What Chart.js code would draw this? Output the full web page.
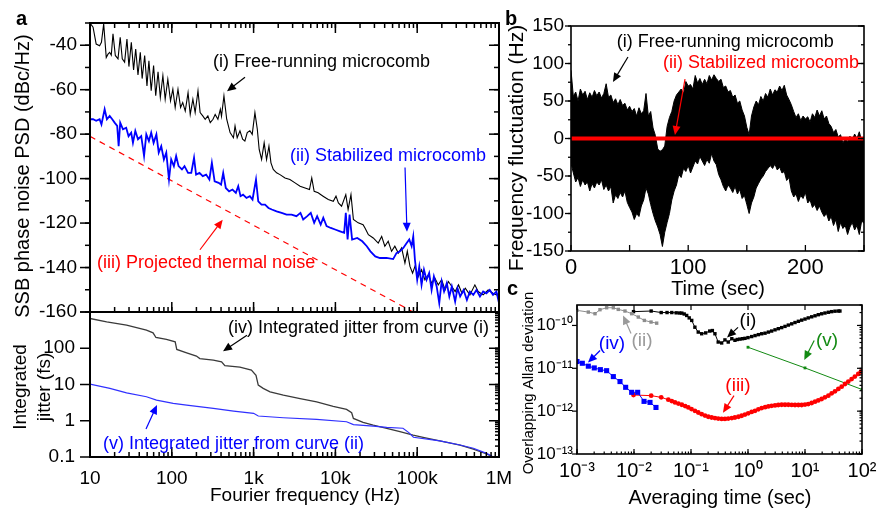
<!DOCTYPE html>
<html>
<head>
<meta charset="utf-8">
<script src="https://cdn.jsdelivr.net/npm/chart.js@4.4.1/dist/chart.umd.min.js"></script>
<style>
  body { margin: 0; background: #fff; }
  #fig { position: relative; width: 877px; height: 508px; overflow: hidden; font-family: "Liberation Sans", Arial, sans-serif; }
  #fig canvas { position: absolute; }
  .panel { position: absolute; font-weight: bold; font-size: 20px; line-height: 1; }
</style>
</head>
<body>
<div id="fig">
  <canvas id="psd" width="515" height="326" style="left:0;top:0"></canvas>
  <canvas id="jit" width="515" height="208" style="left:0;top:300px"></canvas>
  <canvas id="fluct" width="372" height="300" style="left:505px;top:0"></canvas>
  <canvas id="adev" width="372" height="223" style="left:505px;top:285px"></canvas>
  <div class="panel" style="left:16px;top:8px">a</div>
  <div class="panel" style="left:505px;top:8px">b</div>
  <div class="panel" style="left:507px;top:278px">c</div>
</div>
<script>
// ---------- panel a (top): SSB phase noise PSD ----------
const freeFreq = [
  10, 10.9, 11.9, 13.1, 13.8, 14.7, 15.8, 16.6, 17.4, 18.2,
  19.1, 20.4, 22, 23.4, 24.8, 26.5, 28.3, 29.9, 32, 34.1,
  36.2, 38.6, 41.2, 43.4, 46.6, 49.7, 52.5, 56, 59.9, 63.6,
  67.9, 72.4, 77.8, 83, 89.4, 96.5, 103, 110, 119, 128,
  136, 146, 158, 168, 181, 193, 209, 222, 239, 256,
  276, 295, 319, 339, 366, 392, 405, 434, 469, 516,
  567, 593, 630, 681, 734, 782, 836, 900, 962, 1038,
  1110, 1170, 1252, 1346, 1440, 1540, 1630, 1740, 1910, 2100,
  2420, 2780, 3210, 3700, 4260, 4820, 5140, 5500, 6150, 7070,
  8180, 9420, 10170, 10880, 11900, 13400, 14300, 15500, 16600, 19000,
  21800, 23000, 25300, 29000, 33400, 36800, 40200, 44200, 48600, 53300,
  58700, 64500, 70800, 75700, 81600, 87800, 93800, 103000, 113000, 124000,
  137000, 150000, 165000, 181000, 199000, 219000, 241000, 265000, 291000, 320000,
  352000, 387000, 441000, 507000, 556000, 640000, 736000, 845000, 930000, 1000000
];
const freeDb = [
  -30, -31.9, -39.5, -40.2, -38.7, -30.4, -45.5, -44, -43.2, -44.5,
  -34.9, -44.6, -46.1, -36.4, -46.1, -47.6, -37.2, -49.6, -38.7, -51.1,
  -41.7, -53.4, -43.2, -55, -44.6, -58.3, -47, -60.5, -49.1, -62.7,
  -52, -63.5, -53.7, -64.3, -55.3, -65, -59.8, -68, -59.8, -68,
  -65.8, -69.6, -61.3, -71.1, -64.3, -70.3, -60.5, -70.3, -71.8, -73.3,
  -71.8, -74.8, -73.3, -71.1, -73.3, -68.8, -72, -62.8, -73.3, -79.3,
  -81.6, -76.3, -81.6, -78.5, -82.3, -83.1, -79.3, -78.5, -80.1, -70.3,
  -77.8, -86.9, -91.4, -83.9, -91.4, -85.4, -92.9, -95.9, -97.4, -98.2,
  -99.7, -100.4, -101.9, -103.4, -104.2, -104.9, -99.7, -105.7, -106.4, -107.9,
  -109.4, -110.2, -107.9, -110.9, -112.4, -107.2, -113.9, -107.2, -118.4, -119.9,
  -120.7, -122.2, -125.2, -126.7, -129, -126, -130.4, -128.2, -132.7, -130.4,
  -133.5, -131.2, -138, -132.7, -139.5, -142.5, -139.5, -144, -141, -145.5,
  -143.3, -147, -144.8, -147.8, -145.5, -150.1, -146.3, -148.5, -150.8, -147.8,
  -151.6, -149.3, -152.3, -147.8, -150.8, -152.3, -150.1, -151.6, -152.3, -151.6
];
const stabFreq = [
  10, 10.9, 11.9, 13.1, 13.8, 15.1, 16.1, 17.4, 18.7, 20,
  21.5, 22.4, 23.4, 25.3, 27.7, 29.6, 31.9, 33.5, 35.8, 38.6,
  42.3, 45.8, 48.8, 52.5, 56, 59.9, 64.8, 69.2, 74.3, 80,
  85.6, 92.4, 98.3, 106, 113, 121, 133, 143, 158, 173,
  187, 198, 218, 239, 263, 288, 309, 334, 374, 400,
  425, 457, 502, 552, 607, 649, 692, 743, 818, 900,
  970, 1070, 1140, 1250, 1380, 1520, 1670, 1910, 2200, 2530,
  2910, 3340, 3740, 4040, 4530, 5000, 5500, 5980, 6610, 7110,
  7800, 8770, 9910, 11400, 12800, 13400, 14100, 14900, 16000, 18500,
  21300, 24200, 26800, 30700, 35000, 42200, 50800, 55800, 61500, 67600,
  74400, 80000, 85500, 89500, 93800, 100000, 106000, 113000, 121000, 130000,
  140000, 150000, 160000, 173000, 186000, 199000, 213000, 230000, 247000, 265000,
  291000, 311000, 335000, 369000, 405000, 441000, 485000, 530000, 585000, 640000,
  700000, 770000, 845000, 930000, 1000000
];
const stabDb = [
  -73.3, -73.3, -74, -73.3, -75.6, -68.8, -73.3, -71.8, -73.3, -74.8,
  -76.3, -85.4, -74.8, -77.8, -77.1, -80.9, -79.3, -83.9, -78.5, -82.3,
  -80.9, -89.8, -80.1, -83.1, -79.3, -83.9, -80.1, -88.3, -85.4, -91.4,
  -88.3, -100.4, -91.4, -94.4, -89.8, -94.4, -95.9, -94.4, -97.4, -97.4,
  -90.6, -98.2, -97.4, -98.9, -98.2, -100.4, -92.9, -101.2, -101.9, -102.7,
  -97.4, -104.2, -105.7, -104.9, -106.4, -103.4, -107.9, -107.2, -108.7, -107.9,
  -109.4, -100.4, -110.2, -111.7, -111.7, -113.2, -113.9, -114.7, -115.4, -116.2,
  -116.2, -116.9, -115.4, -118.4, -116.9, -115.4, -119.9, -116.9, -120.7, -117.6,
  -121.4, -122.2, -122.9, -123.7, -124.4, -115.4, -127.4, -116.2, -127.4, -126.7,
  -128.2, -130.4, -132.7, -135, -135.7, -135.7, -136.2, -133.5, -132.7, -131.2,
  -129, -127.4, -130.4, -126, -136.5, -145.5, -139.5, -147.8, -141, -145.5,
  -142.5, -150.1, -144, -148.5, -156, -146.3, -150.8, -147, -153, -148.5,
  -155.3, -149.3, -153, -150.1, -154.6, -150.8, -152.3, -150.1, -153, -150.8,
  -151.6, -150.1, -152.3, -150.8, -156
];
const thermFreq = [10, 100000];
const thermDb = [-81, -161];

// ---------- panel a (bottom): integrated jitter ----------
const jitFreqI = [
  10, 16, 28, 49, 59, 64, 86, 110, 115, 152,
  200, 220, 322, 406, 445, 680, 940, 1070, 1140, 1310,
  1590, 2310, 3700, 5900, 9400, 13700, 15800, 16600, 21800, 29000,
  42400, 61500, 89200, 118000, 189000, 334000, 486000, 706000, 850000, 1000000
];
const jitI = [
  662, 533, 433, 316, 266, 198, 175, 150, 93, 75,
  61, 52, 47, 42, 33, 30, 25, 18, 9.6, 7.8,
  6.3, 5.1, 4.1, 3.3, 2.5, 2.06, 1.66, 1.16, 0.9, 0.76,
  0.62, 0.5, 0.4, 0.35, 0.28, 0.214, 0.166, 0.121, 0.1, 0.085
];
const jitFreqII = [
  10, 17.5, 28, 49, 65, 104, 152, 322, 570, 1000,
  1140, 2310, 5900, 13700, 16600, 29000, 42400, 67000, 79000, 90000,
  189000, 334000, 486000, 706000, 850000, 1000000
];
const jitII = [
  10.3, 7.8, 5.9, 4.6, 3.7, 3.0, 2.7, 2.2, 1.85, 1.6,
  1.35, 1.21, 1.09, 0.94, 0.78, 0.71, 0.66, 0.62, 0.47, 0.35,
  0.28, 0.214, 0.174, 0.126, 0.1, 0.085
];

// ---------- panel b: frequency fluctuation (free-running band edges) ----------
const timeSec = [
  0, 2, 4, 6, 8, 10, 12, 14, 16, 18, 20, 22, 24, 26, 28, 30, 32, 34, 36, 38,
  40, 42, 44, 46, 48, 50, 52, 54, 56, 58, 60, 62, 64, 66, 68, 70, 72, 74, 76, 78,
  80, 82, 84, 86, 88, 90, 92, 94, 96, 98, 100, 102, 104, 106, 108, 110, 112, 114, 116, 118,
  120, 122, 124, 126, 128, 130, 132, 134, 136, 138, 140, 142, 144, 146, 148, 150, 152, 154, 156, 158,
  160, 162, 164, 166, 168, 170, 172, 174, 176, 178, 180, 182, 184, 186, 188, 190, 192, 194, 196, 198,
  200, 202, 204, 206, 208, 210, 212, 214, 216, 218, 220, 222, 224, 226, 228, 230, 232, 234, 236, 238,
  240, 242, 244, 246, 248, 250
];
const freeUpper = [
  91, 56, 62, 50, 66, 58, 63, 52, 61, 55, 64, 57, 62, 54, 60, 73, 55, 58, 48, 53,
  45, 52, 44, 47, 38, 43, 36, 40, 30, 41, 33, 37, 60, 30, 36, 14, 4, -14, -17, -15,
  -10, 16, 28, 36, 50, 58, 62, 66, 60, 76, 70, 72, 66, 84, 74, 80, 72, 79, 73, 84,
  78, 85, 80, 76, 79, 68, 70, 62, 64, 55, 58, 47, 50, 38, 30, 15, 5, 30, 42, 50,
  45, 56, 50, 60, 55, 66, 58, 65, 62, 70, 64, 71, 58, 52, 45, 36, 28, 33, 24, 30,
  26, 29, 22, 33, 28, 38, 30, 37, 26, 30, 20, 16, 8, 12, 2, 5, -6, 0, -4, 3,
  -2, 6, 0, 9, -3, 2
];
const freeLower = [
  -33, -46, -58, -52, -64, -55, -62, -58, -70, -60, -66, -58, -62, -55, -68, -62, -70, -64, -86, -75,
  -80, -72, -78, -70, -85, -92, -98, -108, -100, -104, -90, -82, -66, -74, -88, -100, -110, -118, -128, -144,
  -125, -112, -100, -82, -70, -62, -48, -52, -40, -44, -36, -46, -38, -30, -34, -24, -30, -36, -28, -33,
  -20, -30, -35, -48, -55, -64, -70, -62, -66, -72, -64, -74, -68, -80, -76, -88, -100, -86, -78, -66,
  -60, -54, -50, -44, -40, -36, -40, -34, -42, -38, -46, -44, -56, -52, -70, -78, -74, -84, -76, -80,
  -72, -86, -82, -92, -88, -96, -90, -98, -104, -100, -110, -104, -116, -108, -124, -112, -120, -116, -128, -118,
  -112, -122, -116, -128, -110, -113
];
const stabTime = [0, 250];
const stabHz = [0, 0];

// ---------- panel c: overlapping Allan deviation ----------
const freeTau = [
  0.0098, 0.02, 0.03, 0.038, 0.046, 0.055, 0.063, 0.069, 0.076, 0.084,
  0.093, 0.103, 0.117, 0.134, 0.154, 0.181, 0.213, 0.237, 0.263, 0.3,
  0.345, 0.394, 0.45, 0.52, 0.59, 0.65, 0.72, 0.8, 0.885, 1.0,
  1.16, 1.33, 1.52, 1.74, 1.99, 2.28, 2.6, 2.98, 3.4, 3.9,
  4.46, 5.1, 5.85, 6.68, 7.65, 8.75, 10, 11.4, 13.1, 15,
  17.1, 19.6, 22.4, 25.7, 29.4, 33.6, 38.5, 41
];
const freeAdev = [
  2.1e-10, 2.17e-10, 2.0e-10, 2.0e-10, 2.0e-10, 1.97e-10, 1.95e-10, 1.94e-10, 1.85e-10, 1.71e-10,
  1.5e-10, 1.31e-10, 9.1e-11, 7.0e-11, 6.4e-11, 6.7e-11, 7.4e-11, 7.6e-11, 6.4e-11, 4.1e-11,
  3.9e-11, 4.6e-11, 4.1e-11, 4.9e-11, 4.5e-11, 4.7e-11, 4.8e-11, 4.9e-11, 5.0e-11, 5.2e-11,
  5.5e-11, 5.8e-11, 6.1e-11, 6.4e-11, 6.6e-11, 7.0e-11, 7.4e-11, 7.9e-11, 8.4e-11, 8.9e-11,
  9.5e-11, 1.02e-10, 1.09e-10, 1.17e-10, 1.25e-10, 1.33e-10, 1.41e-10, 1.5e-10, 1.59e-10, 1.68e-10,
  1.78e-10, 1.87e-10, 1.95e-10, 2.03e-10, 2.1e-10, 2.15e-10, 2.17e-10, 2.17e-10
];
const grayTau = [0.001, 0.00158, 0.00207, 0.00253, 0.00331, 0.00434, 0.0053, 0.00695, 0.0091, 0.0119, 0.0152, 0.0199, 0.025];
const grayAdev = [2.25e-10, 2.05e-10, 1.88e-10, 2.33e-10, 2.59e-10, 2.59e-10, 2.37e-10, 2.17e-10, 1.88e-10, 1.57e-10, 1.31e-10, 1.2e-10, 1.13e-10];
const blueTau = [0.001, 0.00124, 0.00158, 0.00201, 0.00257, 0.00331, 0.00434, 0.00568, 0.00714, 0.0091, 0.0116, 0.015, 0.0191, 0.0243];
const blueAdev = [1.44e-11, 1.31e-11, 1.12e-11, 1.02e-11, 9.3e-12, 8.8e-12, 6.4e-12, 4.9e-12, 3.6e-12, 2.75e-12, 2.75e-12, 1.69e-12, 1.6e-12, 1.22e-12];
const redTau = [
  0.0098, 0.02, 0.03, 0.04, 0.046, 0.0524, 0.06, 0.069, 0.079, 0.0897,
  0.102, 0.117, 0.134, 0.154, 0.176, 0.201, 0.23, 0.263, 0.3, 0.345,
  0.394, 0.45, 0.52, 0.59, 0.68, 0.775, 0.885, 1.01, 1.16, 1.33,
  1.52, 1.74, 2.0, 2.28, 2.6, 2.98, 3.4, 3.9, 4.46, 5.1,
  5.85, 6.68, 7.65, 8.75, 10, 11.4, 13.1, 15, 17.1, 19.6,
  22.4, 25.7, 29.4, 33.6, 38.5, 44, 50.3, 57.5, 65.8, 75,
  86, 96
];
const redAdev = [
  2.38e-12, 2.3e-12, 2.1e-12, 1.85e-12, 1.72e-12, 1.6e-12, 1.5e-12, 1.41e-12, 1.31e-12, 1.22e-12,
  1.12e-12, 1.02e-12, 9.3e-13, 8.5e-13, 7.9e-13, 7.4e-13, 7.1e-13, 6.9e-13, 6.7e-13, 6.6e-13,
  6.6e-13, 6.7e-13, 6.9e-13, 7.1e-13, 7.4e-13, 7.8e-13, 8.3e-13, 8.9e-13, 9.6e-13, 1.02e-12,
  1.1e-12, 1.18e-12, 1.24e-12, 1.29e-12, 1.33e-12, 1.36e-12, 1.39e-12, 1.41e-12, 1.41e-12, 1.41e-12,
  1.4e-12, 1.39e-12, 1.39e-12, 1.39e-12, 1.42e-12, 1.46e-12, 1.55e-12, 1.66e-12, 1.78e-12, 1.92e-12,
  2.1e-12, 2.3e-12, 2.6e-12, 2.9e-12, 3.3e-12, 3.73e-12, 4.3e-12, 4.9e-12, 5.6e-12, 6.4e-12,
  7.4e-12, 8.4e-12
];
const greenTau = [1, 10, 100];
const greenAdev = [3.1e-11, 1.02e-11, 3.2e-12];

// ---------- ticks ----------
const freqTicks = [10, 100, 1e3, 1e4, 1e5, 1e6];
const freqLabels = ['10', '100', '1k', '10k', '100k', '1M'];
const psdTicks = [-160, -140, -120, -100, -80, -60, -40];
const psdLabels = ['-160', '-140', '-120', '-100', '-80', '-60', '-40'];
const jitTicks = [0.1, 1, 10, 100];
const jitLabels = ['0.1', '1', '10', '100'];
const timeTicks = [0, 100, 200];
const timeLabels = ['0', '100', '200'];
const fluctTicks = [-150, -100, -50, 0, 50, 100, 150];
const fluctLabels = ['-150', '-100', '-50', '0', '50', '100', '150'];
const tauTicks = [1e-3, 1e-2, 1e-1, 1, 10, 100];
const tauLabels = ['10\u207B\u00B3', '10\u207B\u00B2', '10\u207B\u00B9', '10\u2070', '10\u00B9', '10\u00B2'];
const adevTicks = [1e-13, 1e-12, 1e-11, 1e-10];
const adevLabels = ['10\u207B\u00B9\u00B3', '10\u207B\u00B9\u00B2', '10\u207B\u00B9\u00B9', '10\u207B\u00B9\u2070'];

// ---------- helpers ----------
const FONT = '"Liberation Sans", Arial, sans-serif';
const pts = (xs, ys) => xs.map((x, i) => ({x: x, y: ys[i]}));

function logMinors(min, max) {
  const out = [];
  for (let d = Math.floor(Math.log10(min)); d <= Math.ceil(Math.log10(max)); d++) {
    for (let k = 1; k < 10; k++) {
      const v = k * Math.pow(10, d);
      if (v >= min * 0.999 && v <= max * 1.001) out.push(v);
    }
  }
  return out;
}
function linMinors(min, max, step) {
  const out = [];
  for (let v = min; v <= max + 1e-9; v += step) out.push(v);
  return out;
}

function axis(type, min, max, ticks, labels, o) {
  return {
    type: type, min: min, max: max, bounds: 'data',
    grid: {display: false, drawTicks: false},
    border: {display: false},
    afterBuildTicks: s => { s.ticks = ticks.map(v => ({value: v})); },
    afterFit: s => {
      if (o.height !== undefined) s.height = o.height;
      if (o.width !== undefined) s.width = o.width;
      s.paddingLeft = 0; s.paddingRight = 0; s.paddingTop = 0; s.paddingBottom = 0;
    },
    ticks: {
      autoSkip: false, maxRotation: 0, minRotation: 0,
      padding: o.pad || 0, color: '#000',
      font: {family: FONT, size: o.size || 19},
      callback: (v, i) => labels ? labels[i] : ''
    }
  };
}

function arrow(ctx, x1, y1, x2, y2, color) {
  const ang = Math.atan2(y2 - y1, x2 - x1), h = 9, w = 4;
  const c = Math.cos(ang), s = Math.sin(ang);
  ctx.strokeStyle = color; ctx.fillStyle = color; ctx.lineWidth = 1.2;
  ctx.beginPath();
  ctx.moveTo(x1, y1);
  ctx.lineTo(x2 - h * 0.8 * c, y2 - h * 0.8 * s);
  ctx.stroke();
  ctx.beginPath();
  ctx.moveTo(x2, y2);
  ctx.lineTo(x2 - h * c + w * s, y2 - h * s - w * c);
  ctx.lineTo(x2 - h * c - w * s, y2 - h * s + w * c);
  ctx.closePath();
  ctx.fill();
}

// draws frame, inward/outward tick marks, axis titles and annotations
function decor(cfg) {
  return {
    id: 'decor',
    afterDraw(chart) {
      const {ctx, chartArea: a, scales} = chart;
      ctx.save();
      ctx.strokeStyle = '#000';
      ctx.lineWidth = cfg.lw;
      cfg.marks.forEach(t => {
        const sc = scales[t.axis];
        t.values.forEach(v => {
          const p = sc.getPixelForValue(v);
          t.sides.forEach(side => {
            ctx.beginPath();
            if (side === 'bottom') { ctx.moveTo(p, a.bottom); ctx.lineTo(p, a.bottom - t.len); }
            else if (side === 'top') { ctx.moveTo(p, a.top); ctx.lineTo(p, a.top + t.len); }
            else if (side === 'left') { ctx.moveTo(a.left, p); ctx.lineTo(a.left - t.len, p); }
            else { ctx.moveTo(a.right, p); ctx.lineTo(a.right - t.len, p); }
            ctx.stroke();
          });
        });
      });
      ctx.lineWidth = cfg.frame;
      ctx.strokeRect(a.left, a.top, a.right - a.left, a.bottom - a.top);

      ctx.fillStyle = '#000';
      ctx.textAlign = 'center';
      ctx.textBaseline = 'middle';
      cfg.titles.forEach(t => {
        ctx.save();
        ctx.translate(t.x, t.y);
        if (t.rot) ctx.rotate(-Math.PI / 2);
        ctx.font = t.size + 'px ' + FONT;
        ctx.fillText(t.text, 0, 0);
        ctx.restore();
      });
      cfg.notes.forEach(n => {
        ctx.font = n.size + 'px ' + FONT;
        ctx.fillStyle = n.color;
        ctx.textAlign = n.align || 'left';
        ctx.fillText(n.text, scales.x.getPixelForValue(n.x), scales.y.getPixelForValue(n.y));
      });
      cfg.arrows.forEach(r => arrow(ctx,
        scales.x.getPixelForValue(r.x1), scales.y.getPixelForValue(r.y1),
        scales.x.getPixelForValue(r.x2), scales.y.getPixelForValue(r.y2), r.color));
      ctx.restore();
    }
  };
}

function baseOptions(pad, scales) {
  return {
    responsive: false, animation: false, events: [],
    layout: {padding: pad},
    plugins: {legend: {display: false}, tooltip: {enabled: false}},
    elements: {point: {radius: 0}, line: {tension: 0}},
    scales: scales
  };
}

// ---------- panel a, top ----------
new Chart(document.getElementById('psd'), {
  type: 'line',
  data: {datasets: [
    {data: pts(stabFreq, stabDb), borderColor: '#0000ff', borderWidth: 1.8},
    {data: pts(freeFreq, freeDb), borderColor: '#000', borderWidth: 1.1},
    {data: pts(thermFreq, thermDb), borderColor: '#ff0000', borderWidth: 1.2, borderDash: [6, 5]}
  ]},
  options: baseOptions({left: 0, top: 23, right: 16, bottom: 14}, {
    x: axis('logarithmic', 10, 1e6, freqTicks, null, {height: 0}),
    y: axis('linear', -160, -30, psdTicks, psdLabels, {width: 90, pad: 13, size: 19})
  }),
  plugins: [decor({
    lw: 1.5, frame: 2,
    marks: [
      {axis: 'x', values: freqTicks, len: 10, sides: ['top', 'bottom']},
      {axis: 'x', values: logMinors(10, 1e6), len: 5, sides: ['top', 'bottom']},
      {axis: 'y', values: psdTicks, len: 10, sides: ['left', 'right']},
      {axis: 'y', values: linMinors(-160, -30, 10), len: 5, sides: ['left', 'right']}
    ],
    titles: [{text: 'SSB phase noise PSD (dBc/Hz)', x: 23, y: 176, rot: true, size: 20}],
    notes: [
      {text: '(i) Free-running microcomb', x: 319, y: -47.6, color: '#000', size: 18},
      {text: '(ii) Stabilized microcomb', x: 2790, y: -90, color: '#0000ff', size: 18},
      {text: '(iii) Projected thermal noise', x: 12.2, y: -137.9, color: '#ff0000', size: 18}
    ],
    arrows: [
      {x1: 785, y1: -54.4, x2: 473, y2: -60.7, color: '#000'},
      {x1: 71000, y1: -95, x2: 75000, y2: -123.9, color: '#0000ff'},
      {x1: 221, y1: -132, x2: 419, y2: -118.5, color: '#ff0000'}
    ]
  })]
});

// ---------- panel a, bottom ----------
new Chart(document.getElementById('jit'), {
  type: 'line',
  data: {datasets: [
    {data: pts(jitFreqII, jitII), borderColor: '#3030ff', borderWidth: 1.2},
    {data: pts(jitFreqI, jitI), borderColor: '#3a3a3a', borderWidth: 1.3}
  ]},
  options: baseOptions({left: 0, top: 12, right: 16, bottom: 0}, {
    x: axis('logarithmic', 10, 1e6, freqTicks, freqLabels, {height: 51, pad: 10, size: 19}),
    y: axis('logarithmic', 0.1, 1000, jitTicks, jitLabels, {width: 90, pad: 15, size: 19})
  }),
  plugins: [decor({
    lw: 1.5, frame: 2,
    marks: [
      {axis: 'x', values: freqTicks, len: 10, sides: ['bottom']},
      {axis: 'x', values: logMinors(10, 1e6), len: 5, sides: ['bottom']},
      {axis: 'y', values: [0.1, 1, 10, 100, 1000], len: 10, sides: ['left', 'right']},
      {axis: 'y', values: logMinors(0.1, 1000), len: 4, sides: ['right']}
    ],
    titles: [
      {text: 'Integrated', x: 21, y: 87, rot: true, size: 19},
      {text: 'jitter (fs)', x: 45, y: 87, rot: true, size: 19},
      {text: 'Fourier frequency (Hz)', x: 305, y: 196, size: 19}
    ],
    notes: [
      {text: '(iv) Integrated jitter from curve (i)', x: 486, y: 358, color: '#000', size: 18},
      {text: '(v) Integrated jitter from curve (ii)', x: 14.4, y: 0.228, color: '#0000ff', size: 18}
    ],
    arrows: [
      {x1: 830, y1: 230, x2: 423, y2: 83, color: '#000'},
      {x1: 48.4, y1: 0.59, x2: 65.9, y2: 2.71, color: '#0000ff'}
    ]
  })]
});

// ---------- panel b ----------
new Chart(document.getElementById('fluct'), {
  type: 'line',
  data: {datasets: [
    {data: pts(stabTime, stabHz), borderColor: '#ff0000', borderWidth: 4},
    {data: pts(timeSec, freeUpper), borderColor: '#000', borderWidth: 1, backgroundColor: '#000', fill: '+1'},
    {data: pts(timeSec, freeLower), borderColor: '#000', borderWidth: 1}
  ]},
  options: baseOptions({left: 0, top: 26, right: 13, bottom: 0}, {
    x: axis('linear', 0, 250, timeTicks, timeLabels, {height: 49, pad: 4, size: 22}),
    y: axis('linear', -150, 150, fluctTicks, fluctLabels, {width: 66, pad: 7, size: 19})
  }),
  plugins: [decor({
    lw: 1.3, frame: 1.6,
    marks: [
      {axis: 'x', values: linMinors(0, 250, 50), len: 6, sides: ['bottom']},
      {axis: 'y', values: fluctTicks, len: 6, sides: ['left', 'right']},
      {axis: 'y', values: linMinors(-150, 150, 25), len: 3, sides: ['left', 'right']}
    ],
    titles: [
      {text: 'Frequency fluctuation (Hz)', x: 12, y: 148, rot: true, size: 21},
      {text: 'Time (sec)', x: 213, y: 289, size: 20}
    ],
    notes: [
      {text: '(i) Free-running microcomb', x: 39, y: 128.7, color: '#000', size: 18},
      {text: '(ii) Stabilized microcomb', x: 78.5, y: 100.7, color: '#ff0000', size: 18}
    ],
    arrows: [
      {x1: 48.6, y1: 108.7, x2: 35.8, y2: 75.3, color: '#000'},
      {x1: 97.3, y1: 79.3, x2: 88.7, y2: 4.7, color: '#ff0000'}
    ]
  })]
});

// ---------- panel c ----------
const marker = (color, style, r) => ({
  borderColor: color, borderWidth: 1, pointStyle: style, pointRadius: r,
  pointBackgroundColor: color, pointBorderColor: color, pointBorderWidth: 0
});
new Chart(document.getElementById('adev'), {
  type: 'line',
  data: {datasets: [
    Object.assign({data: pts(blueTau, blueAdev)}, marker('#0000ff', 'rect', 3.6)),
    Object.assign({data: pts(redTau, redAdev)}, marker('#ff0000', 'circle', 2.4)),
    Object.assign({data: pts(greenTau, greenAdev)}, marker('#138a13', 'rect', 2)),
    Object.assign({data: pts(grayTau, grayAdev)}, marker('#8c8c8c', 'rect', 2.4)),
    Object.assign({data: pts(freeTau, freeAdev)}, marker('#000', 'rect', 2.4))
  ]},
  options: baseOptions({left: 0, top: 20, right: 15, bottom: 0}, {
    x: axis('logarithmic', 1e-3, 100, tauTicks, tauLabels, {height: 54, pad: 5, size: 20}),
    y: axis('logarithmic', 1e-13, 3e-10, adevTicks, adevLabels, {width: 72, pad: 4, size: 17})
  }),
  plugins: [decor({
    lw: 1.2, frame: 1.6,
    marks: [
      {axis: 'x', values: tauTicks, len: 5, sides: ['bottom', 'top']},
      {axis: 'x', values: logMinors(1e-3, 100), len: 2.5, sides: ['bottom']},
      {axis: 'y', values: adevTicks, len: 5, sides: ['left', 'right']},
      {axis: 'y', values: logMinors(1e-13, 3e-10), len: 2.5, sides: ['right']}
    ],
    titles: [
      {text: 'Overlapping Allan deviation', x: 24, y: 98, rot: true, size: 15},
      {text: 'Averaging time (sec)', x: 215, y: 213, size: 20}
    ],
    notes: [
      {text: '(i)', x: 1.0, y: 1.31e-10, color: '#000', size: 19, align: 'center'},
      {text: '(ii)', x: 0.0138, y: 4.45e-11, color: '#9a9a9a', size: 19, align: 'center'},
      {text: '(iv)', x: 0.00411, y: 3.79e-11, color: '#0000ff', size: 19, align: 'center'},
      {text: '(iii)', x: 0.668, y: 3.94e-12, color: '#ff0000', size: 19, align: 'center'},
      {text: '(v)', x: 24.3, y: 4.45e-11, color: '#138a13', size: 19, align: 'center'}
    ],
    arrows: [
      {x1: 0.668, y1: 9.0e-11, x2: 0.429, y2: 5.24e-11, color: '#000'},
      {x1: 0.00886, y1: 6.5e-11, x2: 0.00643, y2: 1.71e-10, color: '#9a9a9a'},
      {x1: 0.00254, y1: 2.6e-11, x2: 0.00156, y2: 1.36e-11, color: '#0000ff'},
      {x1: 0.568, y1: 2.3e-12, x2: 0.364, y2: 9.2e-13, color: '#ff0000'},
      {x1: 14.5, y1: 4.45e-11, x2: 9.7, y2: 1.57e-11, color: '#138a13'}
    ]
  })]
});
</script>
</body>
</html>
